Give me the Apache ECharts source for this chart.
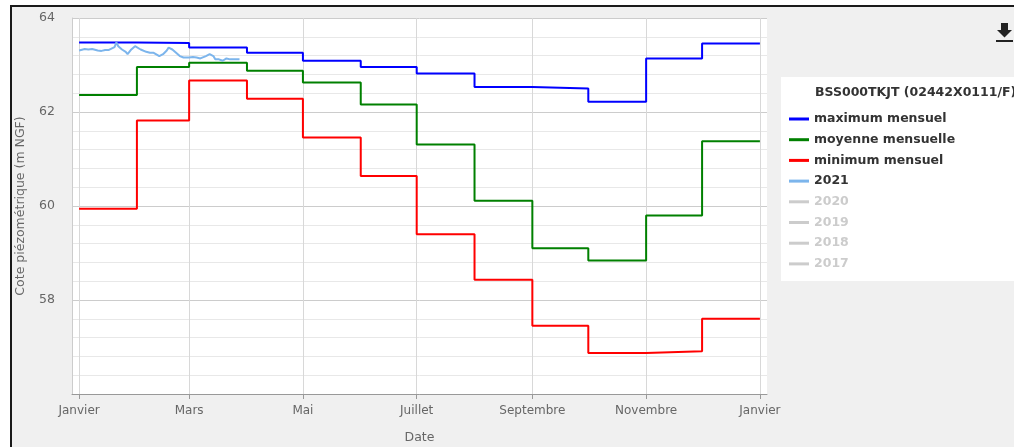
<!DOCTYPE html>
<html>
<head>
<meta charset="utf-8">
<script src="https://cdn.jsdelivr.net/npm/echarts@6/dist/echarts.min.js"></script>
<style>
  html, body { margin: 0; padding: 0; background: #fff; }
  #chart { width: 1014px; height: 447px; }
</style>
</head>
<body>
<div id="chart"></div>
<script>
// monthly statistics, one value per month start
var monthStarts = ['2021-01-01', '2021-02-01', '2021-03-01', '2021-04-01', '2021-05-01', '2021-06-01',
  '2021-07-01', '2021-08-01', '2021-09-01', '2021-10-01', '2021-11-01', '2021-12-01'];
var yearEnd = '2022-01-01';
var maxMensuel = [63.48, 63.47, 63.37, 63.26, 63.09, 62.96, 62.82, 62.53, 62.50, 62.22, 63.14, 63.46];
var moyMensuelle = [62.36, 62.96, 63.05, 62.88, 62.63, 62.16, 61.31, 60.11, 59.10, 58.84, 59.80, 61.38];
var minMensuel = [59.94, 61.82, 62.67, 62.28, 61.46, 60.64, 59.40, 58.43, 57.45, 56.87, 56.91, 57.60];

// 2021 daily levels (partial year)
var dates2021 = ['2021-01-01', '2021-01-02', '2021-01-04', '2021-01-06', '2021-01-08', '2021-01-09',
  '2021-01-11', '2021-01-13', '2021-01-15', '2021-01-17', '2021-01-18', '2021-01-20', '2021-01-21',
  '2021-01-22', '2021-01-24', '2021-01-26', '2021-01-27', '2021-01-29', '2021-01-31', '2021-02-01',
  '2021-02-03', '2021-02-04', '2021-02-06', '2021-02-08', '2021-02-10', '2021-02-11', '2021-02-13',
  '2021-02-14', '2021-02-15', '2021-02-17', '2021-02-18', '2021-02-20', '2021-02-22', '2021-02-24',
  '2021-02-26', '2021-02-27', '2021-03-01', '2021-03-03', '2021-03-05', '2021-03-07', '2021-03-08',
  '2021-03-10', '2021-03-12', '2021-03-14', '2021-03-15', '2021-03-17', '2021-03-19', '2021-03-21',
  '2021-03-23', '2021-03-24', '2021-03-26', '2021-03-28'];
var levels2021 = [63.31, 63.34, 63.34, 63.33, 63.34, 63.30,
  63.31, 63.30, 63.32, 63.32, 63.33, 63.38, 63.48,
  63.40, 63.33, 63.28, 63.23, 63.33, 63.40, 63.38,
  63.33, 63.36, 63.28, 63.26, 63.26, 63.24, 63.19,
  63.21, 63.23, 63.31, 63.37, 63.33, 63.26, 63.19,
  63.16, 63.19, 63.16, 63.17, 63.16, 63.14, 63.17,
  63.19, 63.23, 63.19, 63.12, 63.12, 63.09, 63.14,
  63.12, 63.10, 63.12, 63.12];

var tickDates = ['2021-01-01', '2021-03-01', '2021-05-01', '2021-07-01', '2021-09-01', '2021-11-01', '2022-01-01'];
var tickLabels = ['Janvier', 'Mars', 'Mai', 'Juillet', 'Septembre', 'Novembre', 'Janvier'];
var hiddenYears = ['2020', '2019', '2018', '2017'];

var ts = function (s) { return echarts.number.parseDate(s).getTime(); };
var DAY = 24 * 3600 * 1000;
var tickValues = tickDates.map(ts);

function stepData(values) {
  var out = monthStarts.map(function (d, i) { return [ts(d), values[i]]; });
  out.push([ts(yearEnd), values[values.length - 1]]);
  return out;
}

var chart = echarts.init(document.getElementById('chart'));
var font = 'DejaVu Sans';
var grey = '#666';

var series = [
  { name: 'maximum mensuel', color: '#0000ff', data: stepData(maxMensuel) },
  { name: 'moyenne mensuelle', color: '#008000', data: stepData(moyMensuelle) },
  { name: 'minimum mensuel', color: '#ff0000', data: stepData(minMensuel) }
].map(function (s) {
  return {
    name: s.name, type: 'line', step: 'end', color: s.color, data: s.data,
    showSymbol: false, lineStyle: { width: 2 }, emphasis: { disabled: true }
  };
});
series.push({
  name: '2021', type: 'line', color: '#7cb5ec', showSymbol: false,
  data: dates2021.map(function (d, i) { return [ts(d), levels2021[i]]; }),
  lineStyle: { width: 2 }, emphasis: { disabled: true }
});
hiddenYears.forEach(function (y) {
  series.push({ name: y, type: 'line', color: '#aaa', showSymbol: false, data: [] });
});

var selected = {};
hiddenYears.forEach(function (y) { selected[y] = false; });

chart.setOption({
  animation: false,
  backgroundColor: '#f0f0f0',
  textStyle: { fontFamily: font },
  title: {
    text: 'BSS000TKJT (02442X0111/F)',
    left: 815, top: 86, padding: 0,
    textStyle: { fontSize: 12.5, fontWeight: 'bold', color: '#333', fontFamily: font }
  },
  legend: {
    orient: 'vertical', left: 789, top: 112, padding: 0,
    icon: 'rect', itemWidth: 20, itemHeight: 3, itemGap: 6.7,
    inactiveColor: '#ccc', selected: selected,
    textStyle: { fontSize: 12.5, fontWeight: 'bold', color: '#333', lineHeight: 14, fontFamily: font },
    data: series.map(function (s) { return s.name; })
  },
  graphic: [
    { type: 'rect', shape: { x: 0, y: 0, width: 10, height: 447 }, style: { fill: '#fff' }, silent: true },
    { type: 'rect', shape: { x: 0, y: 0, width: 1014, height: 5 }, style: { fill: '#fff' }, silent: true },
    { type: 'polyline', shape: { points: [[11, 447], [11, 6], [1014, 6]] }, style: { stroke: '#1a1a1a', lineWidth: 2, fill: null }, silent: true },
    { type: 'rect', shape: { x: 781, y: 77, width: 240, height: 204 }, style: { fill: '#fff' }, silent: true },
    { type: 'rect', shape: { x: 1001, y: 23, width: 7, height: 8 }, style: { fill: '#222' }, silent: true },
    { type: 'polygon', shape: { points: [[997, 30], [1012, 30], [1004.5, 37.5]] }, style: { fill: '#222' }, silent: true },
    { type: 'rect', shape: { x: 996, y: 40, width: 17, height: 2 }, style: { fill: '#222' }, silent: true }
  ],
  grid: {
    left: 72, right: 247, top: 18, bottom: 53,
    outerBoundsMode: 'none',
    show: true, backgroundColor: '#fff', borderWidth: 0
  },
  xAxis: {
    type: 'value',
    min: ts('2021-01-01') - 3.8 * DAY,
    max: ts(yearEnd) + 3.8 * DAY,
    name: 'Date', nameLocation: 'middle', nameGap: 37,
    nameTextStyle: { color: grey, fontSize: 12.5, fontFamily: font },
    axisLine: { show: true, lineStyle: { color: '#999', width: 1 } },
    axisTick: { show: true, customValues: tickValues, length: 5, lineStyle: { color: '#999' } },
    axisLabel: {
      customValues: tickValues, color: grey, fontSize: 12, margin: 10.5, fontFamily: font,
      formatter: function (v) {
        var i = tickValues.indexOf(v);
        return i >= 0 ? tickLabels[i] : '';
      }
    },
    splitLine: { show: true, lineStyle: { color: '#d8d8d8' } }
  },
  yAxis: {
    type: 'value', min: 56, max: 64, interval: 2,
    name: 'Cote piézométrique (m NGF)', nameLocation: 'middle', nameGap: 45,
    nameTextStyle: { color: grey, fontSize: 12.5, fontFamily: font },
    axisLine: { show: true, lineStyle: { color: '#ccc' } },
    axisTick: { show: false },
    axisLabel: { color: grey, fontSize: 12.5, margin: 17, showMinLabel: false, fontFamily: font },
    splitLine: { show: true, lineStyle: { color: '#ccc' } },
    minorTick: { show: false, splitNumber: 5 },
    minorSplitLine: { show: true, lineStyle: { color: '#e8e8e8' } }
  },
  series: series
});
</script>
</body>
</html>
